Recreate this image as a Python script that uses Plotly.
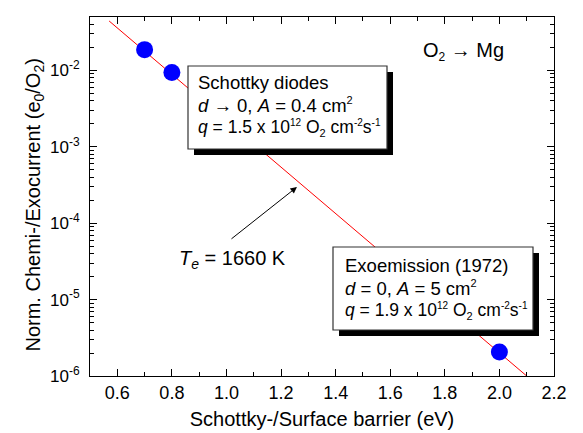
import plotly.graph_objects as go
import numpy as np

# ---- data ----
barrier_eV = [0.70, 0.80, 2.00]
current = [0.0187, 0.0094, 2.06e-6]
fit_x = [0.57, 2.10]
fit_y = [10 ** -1.353, 1.0e-6]
y_tick_vals = [1e-6, 1e-5, 1e-4, 1e-3, 1e-2]
y_tick_exps = ["-6", "-5", "-4", "-3", "-2"]

# the page body has an 8 px default margin, so the figure is drawn 8 px in
OFF = 8
W, H = 583 - OFF, 433 - OFF
L, R, T, B = 90 - OFF, 29, 17 - OFF, 57
PW, PH = W - L - R, H - T - B

def px(x):
    return (x - 90) / PW

def py(y):
    return (376 - y) / PH

FONT = "Liberation Sans, Arial, sans-serif"

def small(s, size=11):
    return '<span style="font-size:%dpx">%s</span>' % (size, s)

sup = lambda s, z=11: "<sup>" + small(s, z) + "</sup>"
sub = lambda s, z=12: "<sub>" + small(s, z) + "</sub>"

y_tick_text = ["10" + sup(e, 12) for e in y_tick_exps]
y_minor = [m * 10.0 ** e for e in range(-6, -1) for m in range(2, 10)]
x_minor = [round(0.5 + 0.2 * i, 1) for i in range(9)]

fig = go.Figure()
fig.add_trace(go.Scatter(x=fit_x, y=fit_y, mode="lines",
                         line=dict(color="#ff0000", width=1), showlegend=False))
fig.add_trace(go.Scatter(x=barrier_eV, y=current, mode="markers",
                         marker=dict(color="#0000ff", size=17, line=dict(width=0)),
                         showlegend=False))

shapes = []
def box(x0, y0, x1, y1, off=6):
    shapes.append(dict(type="rect", xref="paper", yref="paper",
                       x0=px(x0 + off), x1=px(x1 + off), y0=py(y1 + off), y1=py(y0 + off),
                       fillcolor="black", line=dict(width=0), layer="above"))
    shapes.append(dict(type="rect", xref="paper", yref="paper",
                       x0=px(x0), x1=px(x1), y0=py(y1), y1=py(y0),
                       fillcolor="white", line=dict(color="#333333", width=1.2), layer="above"))

box(188, 66, 387, 149)
box(333, 247, 533, 330)

ann = []
def text(x, y, s, size=18.5, anchor="left"):
    ann.append(dict(x=px(x), y=py(y), xref="paper", yref="paper", text=s,
                    showarrow=False, xanchor=anchor, yanchor="middle",
                    font=dict(family=FONT, size=size, color="black")))

text(196, 82, "Schottky diodes")
text(196, 105, "<i>d</i> → 0, <i>A</i> = 0.4 cm" + sup("2"))
text(196, 128, "<i>q</i> = 1.5 x 10" + sup("12", 10) + " O" + sub("2", 11) + " cm" + sup("-2", 10) + "s" + sup("-1", 10), size=17.5)
text(343, 265, "Exoemission (1972)")
text(343, 288, "<i>d</i> = 0, <i>A</i> = 5 cm" + sup("2"))
text(343, 311, "<i>q</i> = 1.9 x 10" + sup("12", 10) + " O" + sub("2", 11) + " cm" + sup("-2", 10) + "s" + sup("-1", 10), size=17.5)
text(421, 51, "O" + sub("2") + " → Mg", size=20)
text(177, 259, "<i>T</i><sub><i>e</i></sub> = 1660 K", size=20)

# arrow
ann.append(dict(x=0.5 + (297 - 90) / 273, y=-6 + (376 - 187) / 76.4, xref="x", yref="y",
                ax=0.5 + (230 - 90) / 273, ay=-6 + (376 - 240) / 76.4, axref="x", ayref="y",
                text="", showarrow=True, arrowhead=2, arrowsize=1.3, arrowwidth=1,
                arrowcolor="black", standoff=0))

fig.update_layout(
    width=W, height=H,
    margin=dict(l=L, r=R, t=T, b=B),
    paper_bgcolor="white", plot_bgcolor="white",
    font=dict(family=FONT, color="black"),
    shapes=shapes, annotations=ann,
    xaxis=dict(range=[0.5, 2.2], tick0=0, dtick=0.2, tickformat=".1f", automargin=False,
               ticks="inside", ticklen=7, tickwidth=1, tickcolor="black",
               showline=True, linecolor="black", linewidth=1, mirror="allticks",
               showgrid=False, zeroline=False,
               tickfont=dict(size=18, family=FONT),
               minor=dict(tickmode="array", tickvals=x_minor, ticks="inside", ticklen=4, tickwidth=1,
                          tickcolor="black", showgrid=False),
               title=dict(text="Schottky-/Surface barrier (eV)", font=dict(size=20, family=FONT), standoff=10)),
    yaxis=dict(type="log", range=[-6, np.log10(0.05)], tickmode="array",
               tickvals=y_tick_vals, ticktext=y_tick_text, automargin=False,
               ticks="inside", ticklen=7, tickwidth=1, tickcolor="black",
               showline=True, linecolor="black", linewidth=1, mirror="allticks",
               showgrid=False, zeroline=False, ticklabelstandoff=6,
               tickfont=dict(size=17, family=FONT),
               minor=dict(tickmode="array", tickvals=y_minor, ticks="inside", ticklen=4, tickwidth=1,
                          tickcolor="black", showgrid=False),
               title=dict(text="Norm. Chemi-/Exocurrent (e<sub>0</sub>/O<sub>2</sub>)&nbsp;&nbsp;&nbsp;",
                          font=dict(size=20, family=FONT), standoff=4)),
)

fig.write_html("out.html")
